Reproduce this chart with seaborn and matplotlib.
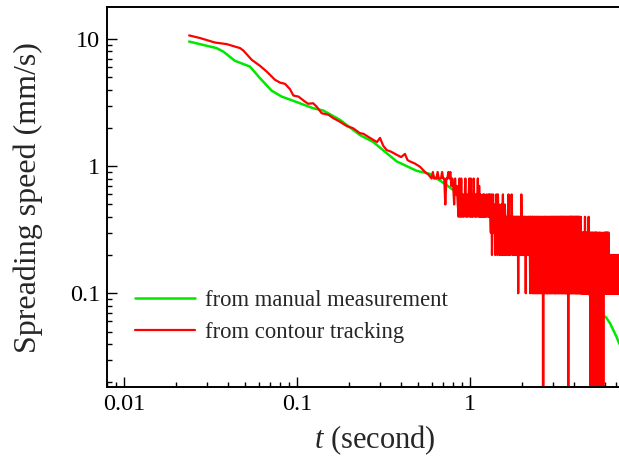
import numpy as np
import pandas as pd
import matplotlib
matplotlib.use("Agg")
import matplotlib.pyplot as plt
import seaborn as sns
from matplotlib.ticker import LogLocator, NullFormatter, FuncFormatter

manual_t = [0.0238, 0.0343, 0.0375, 0.0438, 0.0535, 0.0611, 0.0714, 0.0816, 0.0953,
            0.124, 0.142, 0.177, 0.231, 0.276, 0.377, 0.492, 0.587, 0.733, 1.335, 1.52,
            2.5, 3.5, 4.94, 5.5, 5.9, 6.1, 6.45, 7.0, 7.3]
manual_v = [9.57, 8.5, 7.98, 6.75, 6.08, 4.93, 3.93, 3.53, 3.27,
            2.86, 2.74, 2.32, 1.76, 1.55, 1.09, 0.92, 0.87, 0.71, 0.39, 0.315,
            0.19, 0.135, 0.097, 0.075, 0.066, 0.065, 0.058, 0.046, 0.040]

# red curve, early (smooth) part: from contour tracking
contour_t = [0.0238, 0.0275, 0.0336, 0.0392, 0.0469, 0.049, 0.0548, 0.0611, 0.0668, 0.0746,
             0.0797, 0.0853, 0.0911, 0.0953, 0.102, 0.111, 0.116, 0.124, 0.130, 0.139,
             0.152, 0.162, 0.177, 0.194, 0.211, 0.231, 0.242, 0.276, 0.290, 0.302,
             0.315, 0.330, 0.350, 0.377, 0.400, 0.421, 0.435, 0.450, 0.480, 0.514,
             0.550, 0.575]
contour_v = [10.7, 10.2, 9.4, 9.14, 8.5, 8.13, 6.87, 6.17, 5.56, 4.79,
             4.55, 4.45, 4.04, 3.6, 3.53, 3.23, 3.1, 3.13, 2.94, 2.61,
             2.54, 2.39, 2.24, 2.07, 1.99, 1.82, 1.80, 1.61, 1.55, 1.67,
             1.45, 1.34, 1.30, 1.23, 1.18, 1.25, 1.12, 1.09, 1.05, 0.99,
             0.90, 0.86]

# red curve, late (noisy) part: one frame every 0.01 s from t = 0.60 s,
# speed quantised in steps of 0.1 mm/s (each digit = tenths of mm/s)
frame_start = 0.60
frame_dt = 0.01
contour_frames = [
    "8988898889" "8858898978" "7586754848" "4645846458",                  # 0.60 - 0.99
    "4846485464" "5847464546" "4645465464" "6436246345" "2464264524",     # 1.00 - 1.49
    "4252462425" "4243424642" "4243642424" "3424243424" "1424234264",     # 1.50 - 1.99
    "4232424324" "1423243242" "4321424324" "1423142413" "2413241432",     # 2.00 - 2.49
    "1423142341" "3241201432" "4132413241" "3142314231" "4213421432",     # 2.50 - 2.99
    "1432413241" "3142134231" "4213241432" "1342314241" "3214324132",     # 3.00 - 3.49
    "4132413241" "3142314231" "0412341324" "1432143241" "3241324132",     # 3.50 - 3.99
    "4132413241" "3142134231" "4213241432" "1321312413" "2131213121",     # 4.00 - 4.49
    "3121312131" "2141312132" "1213121312" "1312141213" "1213120103",     # 4.50 - 4.99
    "0201030201" "0302010301" "0201030102" "0312132121" "3120102010",     # 5.00 - 5.49
    "3010201030" "1020103010" "2010201030" "1020102010" "2121312121",     # 5.50 - 5.99
    "2131212131" "2121312121" "3121213121" "2131212121" "2121212121",     # 6.00 - 6.49
    "1212121212" "1212121212" "1212121212" "1212121212" "1212121212",     # 6.50 - 6.99
    "2121212121" "2121212121" "2121212121" "2",                           # 7.00 - 7.30
]

codes = "".join(contour_frames)
noisy_t = [frame_start + frame_dt * i for i in range(len(codes))]
noisy_v = [int(c) / 10 for c in codes]

manual = pd.DataFrame({"t": manual_t, "v": manual_v})
contour = pd.DataFrame({"t": contour_t + noisy_t, "v": contour_v + noisy_v})

sns.set_style("ticks")
plt.rcParams["font.family"] = ["Liberation Serif", "DejaVu Serif"]
plt.rcParams["mathtext.fontset"] = "custom"
plt.rcParams["mathtext.rm"] = "Liberation Serif"
plt.rcParams["mathtext.it"] = "Liberation Serif:italic"

fig = plt.figure(figsize=(6.19, 4.67), dpi=100)
# the original frame runs on past the right edge of the picture (to t = 10 s)
ax = fig.add_axes([107 / 619, 1 - 387.3 / 467, 536 / 619, 380.3 / 467])
ax.set_xscale("log")
ax.set_yscale("log")

sns.lineplot(data=manual, x="t", y="v", ax=ax, color="#00e800", lw=1.8,
             label="from manual measurement", estimator=None, sort=False)
sns.lineplot(data=contour, x="t", y="v", ax=ax, color="#ff0000", lw=1.6,
             label="from contour tracking", estimator=None, sort=False)

ax.set_xlim(0.00798, 10.0)
ax.set_ylim(0.0182, 17.9)

ax.xaxis.set_major_locator(LogLocator(base=10))
ax.yaxis.set_major_locator(LogLocator(base=10))
ax.xaxis.set_minor_locator(LogLocator(base=10, subs=np.arange(2, 10)))
ax.yaxis.set_minor_locator(LogLocator(base=10, subs=np.arange(2, 10)))
ax.xaxis.set_minor_formatter(NullFormatter())
ax.yaxis.set_minor_formatter(NullFormatter())
# the "10" under the x axis falls outside the cropped picture, so leave it blank
ax.xaxis.set_major_formatter(FuncFormatter(lambda x, pos: f"{x:g}" if x < 5 else ""))
ax.yaxis.set_major_formatter(FuncFormatter(lambda x, pos: f"{x:g}"))

ax.tick_params(which="both", direction="in", top=False, right=False, colors="black",
               width=1.0, labelsize=17.5)
ax.tick_params(which="major", length=7, pad=5)
ax.tick_params(which="minor", length=3.5)
for side in ["left", "bottom", "top", "right"]:
    ax.spines[side].set_linewidth(1.4)
    ax.spines[side].set_color("black")

ax.set_xlabel(r"$t$ (second)", fontsize=22, labelpad=6)
ax.set_ylabel("Spreading speed (mm/s)", fontsize=23, labelpad=19)

ax.legend(loc="upper left", bbox_to_anchor=(0.052, 0.255), frameon=False, fontsize=16.3,
          handlelength=2.65, handletextpad=0.45, labelspacing=0.46, borderaxespad=0,
          borderpad=0)

fig.savefig("out.png", dpi=100)
